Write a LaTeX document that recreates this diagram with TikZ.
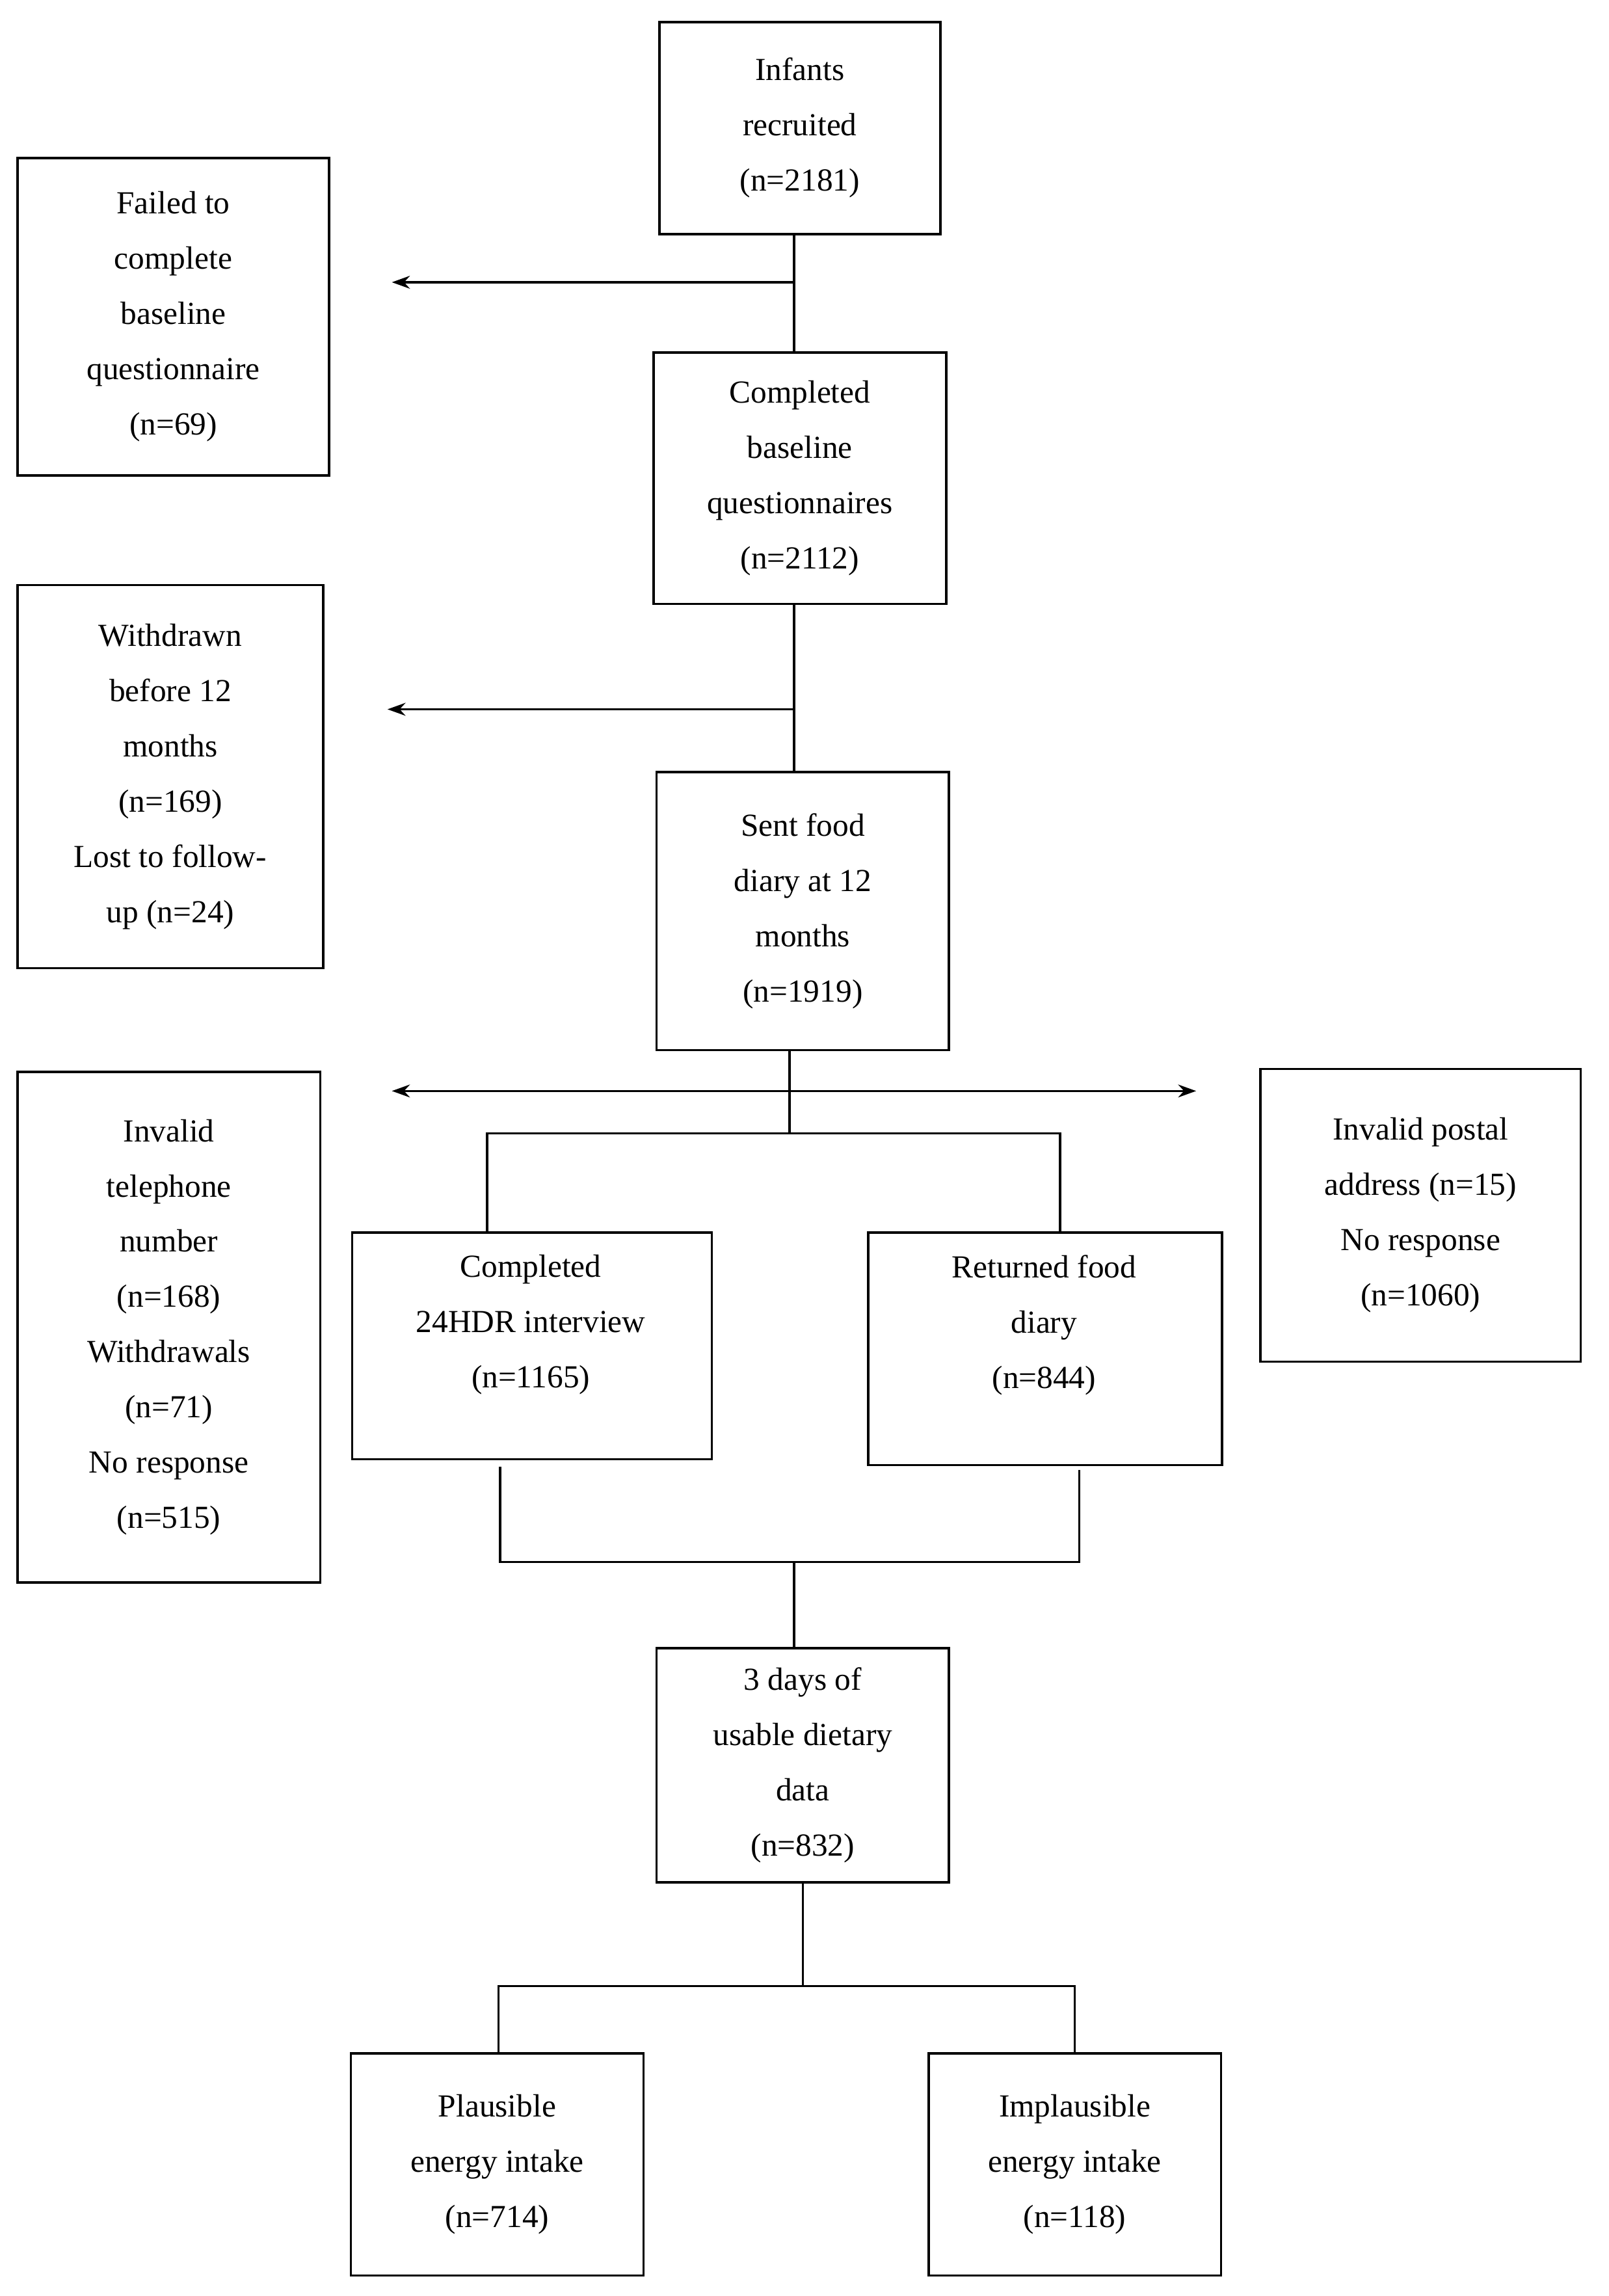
\documentclass[tikz,border=0pt]{standalone}
\usepackage{fontspec}
\setmainfont{Liberation Serif}
\usetikzlibrary{arrows.meta}
\begin{document}
\begin{tikzpicture}[x=0.02cm,y=-0.02cm,
 box/.style={draw,line width=0.9pt,align=center,inner sep=0pt,font=\fontsize{12.5}{21.5}\selectfont},
 ln/.style={line width=0.9pt},
 ar/.style={ln,-{Stealth[length=7pt,width=5pt]}}]
\useasboundingbox (0,0) rectangle (1100,1570);
\newcommand\bx[6]{\node[box,minimum width={(#4-#2)*0.02cm},minimum height={(#5-#3)*0.02cm}] (#1) at ({(#2+#4)/2},{(#3+#5)/2}) {#6};}
\bx{a}{451}{15}{643}{160}{Infants\\recruited\\(n=2181)}
\bx{f}{12}{108}{225}{325}{Failed to\\complete\\baseline\\questionnaire\\(n=69)}
\bx{b}{447}{241}{647}{413}{Completed\\baseline\\questionnaires\\(n=2112)}
\bx{w}{12}{400}{221}{662}{Withdrawn\\before 12\\months\\(n=169)\\Lost to follow-\\up (n=24)}
\bx{s}{449}{528}{649}{718}{Sent food\\diary at 12\\months\\(n=1919)}
\bx{t}{12}{733}{219}{1082}{Invalid\\telephone\\number\\(n=168)\\Withdrawals\\(n=71)\\No response\\(n=515)}
\bx{p}{862}{731}{1081}{931}{Invalid postal\\address (n=15)\\No response\\(n=1060)}
\node[box,minimum width=4.92cm,minimum height=3.1cm,anchor=north west,text depth=0pt] (h) at (240,842) {};
\node[align=center,anchor=north,font=\fontsize{12.5}{21.5}\selectfont] (ht) at (363,852) {Completed\\24HDR interview\\(n=1165)};
\node[box,minimum width=4.84cm,minimum height=3.18cm,anchor=north west] (r) at (593,842) {};
\node[align=center,anchor=north,font=\fontsize{12.5}{21.5}\selectfont] (rt) at (714,852) {Returned food\\diary\\(n=844)};
\bx{d}{449}{1127}{649}{1287}{3 days of\\usable dietary\\data\\(n=832)}
\bx{pl}{240}{1404}{440}{1556}{Plausible\\energy intake\\(n=714)}
\bx{im}{635}{1404}{835}{1556}{Implausible\\energy intake\\(n=118)}
\coordinate (j1) at (543,193); \coordinate (e1) at (268,193);
\coordinate (j2) at (543,485); \coordinate (e2) at (265,485);
\coordinate (j3) at (540,746); \coordinate (e3l) at (268,746); \coordinate (e3r) at (818,746);
\coordinate (j4) at (540,775); \coordinate (hl) at (333,775); \coordinate (hr) at (725,775);
\coordinate (k1) at (342,1003); \coordinate (k2) at (342,1068); \coordinate (k3) at (738,1068); \coordinate (k4) at (738,1005);
\coordinate (k5) at (543,1068);
\coordinate (m1) at (549,1358); \coordinate (ml) at (341,1358); \coordinate (mr) at (735,1358);
\draw[ln] (a.south -| j1) -- (b.north -| j1);
\draw[ar] (j1) -- (e1);
\draw[ln] (b.south -| j2) -- (s.north -| j2);
\draw[ar] (j2) -- (e2);
\draw[ln] (s.south -| j3) -- (j4);
\draw[ln,{Stealth[length=7pt,width=5pt]}-{Stealth[length=7pt,width=5pt]}] (e3l) -- (e3r);
\draw[ln] (hl |- h.north) -- (hl) -- (hr) -- (hr |- r.north);
\draw[ln] (k1) -- (k2) -- (k3) -- (k4);
\draw[ln] (k5) -- (k5 |- d.north);
\draw[ln] (d.south -| m1) -- (m1);
\draw[ln] (ml |- pl.north) -- (ml) -- (mr) -- (mr |- im.north);
\end{tikzpicture}
\end{document}
